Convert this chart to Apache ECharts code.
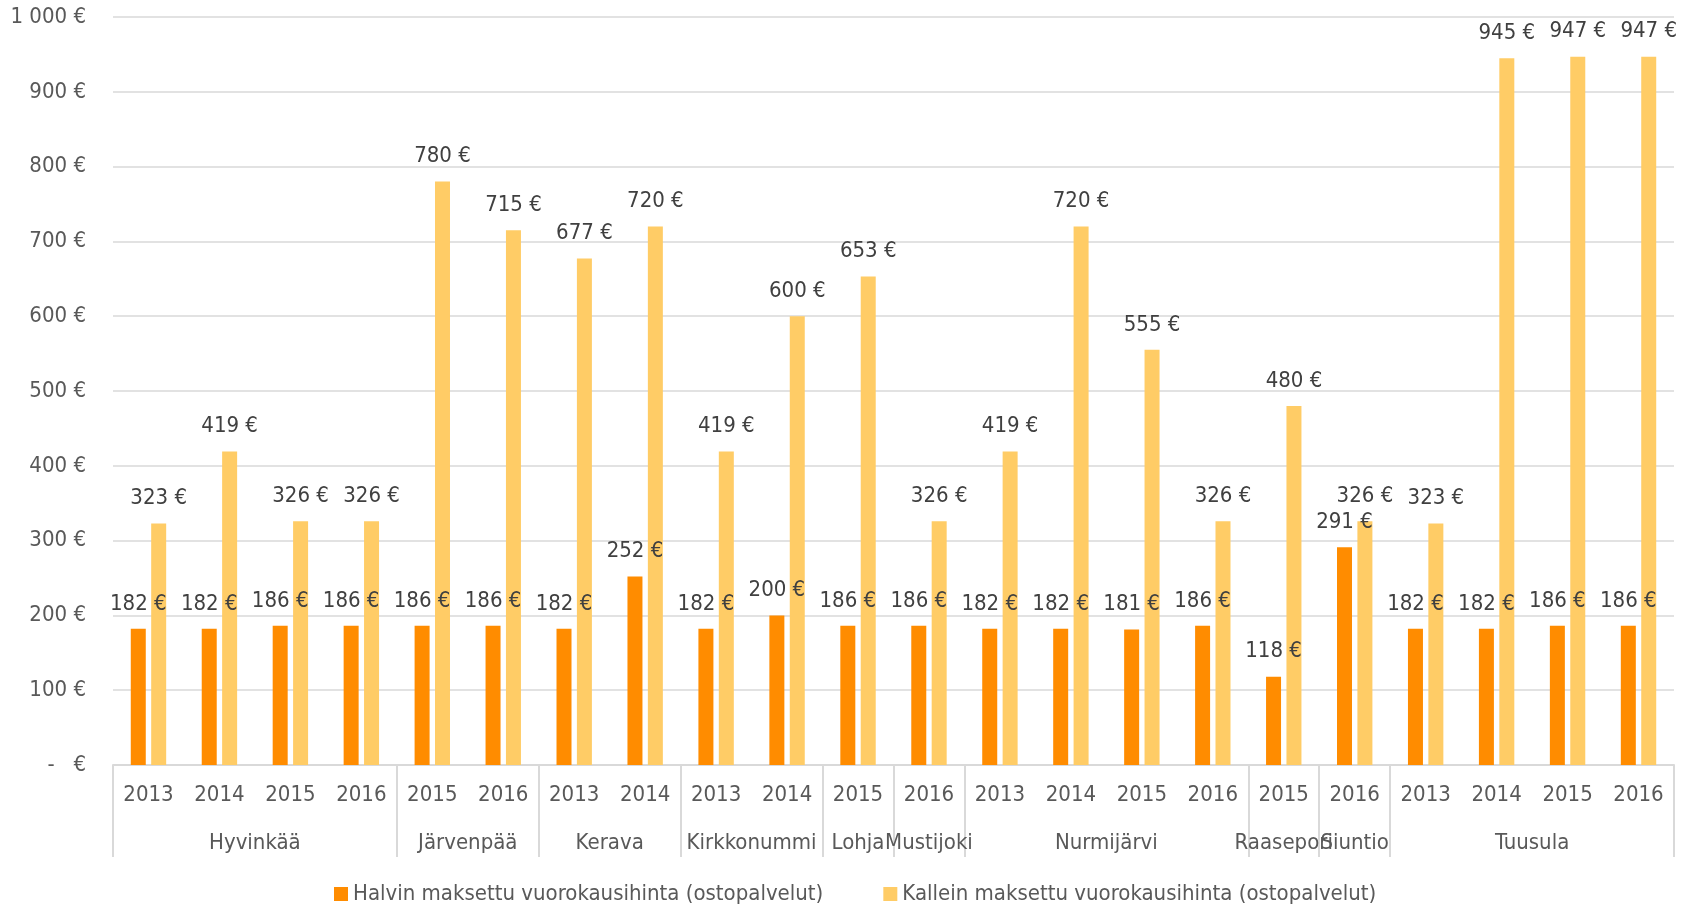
<!DOCTYPE html>
<html>
<head>
<meta charset="utf-8">
<title>Vuorokausihinta</title>
<script src="https://cdn.jsdelivr.net/npm/echarts@6/dist/echarts.min.js"></script>
<style>
  html, body { margin: 0; padding: 0; background: #fff; }
  #chart { width: 1690px; height: 907px; }
</style>
</head>
<body>
<div id="chart"></div>
<script>
// years per bar (x categories)
const years = ['2013', '2014', '2015', '2016', '2015', '2016', '2013', '2014', '2013', '2014',
  '2015', '2016', '2013', '2014', '2015', '2016', '2015', '2016', '2013', '2014', '2015', '2016']
// municipalities and how many years each one has
const groupNames = ['Hyvinkää', 'Järvenpää', 'Kerava', 'Kirkkonummi', 'Lohja', 'Mustijoki',
  'Nurmijärvi', 'Raasepori', 'Siuntio', 'Tuusula']
const groupSizes = [4, 2, 2, 2, 1, 1, 4, 1, 1, 4]

const cheapest = [182, 182, 186, 186, 186, 186, 182, 252, 182, 200, 186, 186,
  182, 182, 181, 186, 118, 291, 182, 182, 186, 186]
const dearest = [323, 419, 326, 326, 780, 715, 677, 720, 419, 600, 653, 326,
  419, 720, 555, 326, 480, 326, 323, 945, 947, 947]

const seriesNames = ['Halvin maksettu vuorokausihinta (ostopalvelut)', 'Kallein maksettu vuorokausihinta (ostopalvelut)']

// group boundaries / centres on a 0..n scale
const bounds = [0]
const centres = []
groupSizes.forEach((n, i) => {
  centres.push(bounds[i] + n / 2)
  bounds.push(bounds[i] + n)
})

const font = "'Liberation Sans Narrow', 'DejaVu Sans Condensed', sans-serif"
const fs = 22

const fmtEuro = v => v === 0 ? '-   €' : String(v).replace(/\B(?=(\d{3})+(?!\d))/g, ' ') + ' €'

const chart = echarts.init(document.getElementById('chart'))

const labelOpt = {
  show: true,
  position: 'top',
  distance: 14,
  color: '#404040',
  fontFamily: font,
  fontSize: fs,
  formatter: p => p.value + ' €'
}

chart.setOption({
  animation: false,
  grid: { left: 113, right: 16, top: 17, bottom: 142, containLabel: false },
  legend: {
    top: 878,
    left: 329,
    icon: 'rect',
    itemWidth: 14,
    itemHeight: 14,
    itemGap: 60,
    textStyle: { color: '#595959', fontFamily: font, fontSize: fs },
    data: seriesNames
  },
  xAxis: [{
    type: 'category',
    data: years,
    axisLine: { lineStyle: { color: '#d9d9d9', width: 2 } },
    axisTick: { show: false },
    axisLabel: { color: '#595959', fontFamily: font, fontSize: fs, margin: 19, interval: 0 }
  }, {
    type: 'value',
    position: 'bottom',
    min: 0,
    max: years.length,
    axisLine: { show: false },
    splitLine: { show: false },
    axisTick: {
      show: true,
      customValues: bounds,
      length: 92,
      lineStyle: { color: '#d9d9d9', width: 2 }
    },
    axisLabel: {
      customValues: centres,
      color: '#595959',
      fontFamily: font,
      fontSize: fs,
      margin: 67,
      formatter: v => groupNames[centres.indexOf(v)] || ''
    }
  }],
  yAxis: {
    type: 'value',
    min: 0,
    max: 1000,
    interval: 100,
    axisLine: { show: false },
    axisTick: { show: false },
    splitLine: { lineStyle: { color: '#d9d9d9', width: 1.5 } },
    axisLabel: { color: '#595959', fontFamily: font, fontSize: fs, margin: 27, formatter: fmtEuro }
  },
  series: [{
    name: seriesNames[0],
    type: 'bar',
    data: cheapest,
    barWidth: 15,
    barGap: '36%',
    itemStyle: { color: '#FF8C00' },
    label: labelOpt
  }, {
    name: seriesNames[1],
    type: 'bar',
    data: dearest,
    barWidth: 15,
    barGap: '36%',
    itemStyle: { color: '#FFCC66' },
    label: labelOpt
  }]
})
</script>
</body>
</html>
